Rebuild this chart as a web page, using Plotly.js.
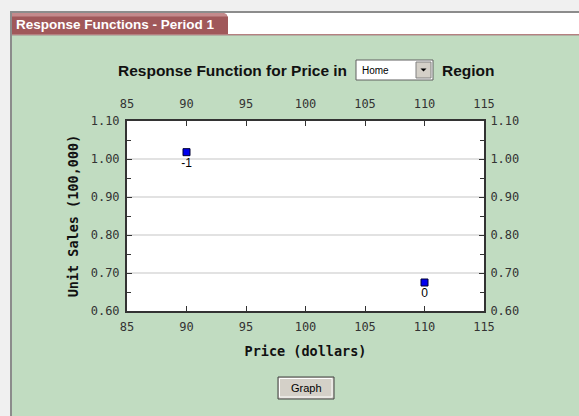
<!DOCTYPE html>
<html>
<head>
<meta charset="utf-8">
<script src="https://cdn.plot.ly/plotly-3.0.1.min.js"></script>
<style>
html,body{margin:0;padding:0;background:#f0f0f0;}
#chart{width:579px;height:416px;}
</style>
</head>
<body>
<div id="chart"></div>
<script>
// ---- data ----
const prices = [90, 110];
const unitSales = [1.018, 0.675];
const pointLabels = ['-1', '0'];
const xTickVals = [85, 90, 95, 100, 105, 110, 115];
const yTickVals = [0.6, 0.7, 0.8, 0.9, 1.0, 1.1];
const tabTitle = 'Response Functions - Period 1';
const chartTitleLeft = 'Response Function for Price in';
const chartTitleRight = 'Region';
const regionChoice = 'Home';
const buttonLabel = 'Graph';
const xTitle = 'Price (dollars)';
const yTitle = 'Unit Sales (100,000)';

// ---- geometry helpers (pixel -> paper) ----
const W = 579, H = 416;
const M = {l: 127, r: 95, t: 121, b: 105};
const PW = W - M.l - M.r, PH = H - M.t - M.b;
const px = p => (p - M.l) / PW;
const py = p => (H - M.b - p) / PH;

function rect(x0, y0, x1, y1, fill, line, lw) {
  return {type: 'rect', xref: 'paper', yref: 'paper', layer: 'below',
    x0: px(x0), x1: px(x1), y0: py(y1), y1: py(y0),
    fillcolor: fill, line: {color: line || fill, width: lw === undefined ? 0 : lw}};
}
function path(pts, fill) {
  let d = pts.map((p, i) => (i ? 'L' : 'M') + px(p[0]) + ',' + py(p[1])).join(' ') + ' Z';
  return {type: 'path', xref: 'paper', yref: 'paper', layer: 'below', path: d,
    fillcolor: fill, line: {width: 0}};
}

const shapes = [
  rect(10, 11, 579, 416, '#8c8c8c'),
  rect(12, 13, 579, 34, '#ffffff'),
  rect(12, 34, 579, 35.5, '#b58080'),
  rect(12, 35.5, 579, 416, '#c1dcc1'),
  // tab
  path([[12,13],[223,13],[226,14],[228,17],[228,34],[12,34]], '#a0585a'),
  path([[12,13],[223,13],[226,14],[227.5,16.5],[12,16.5]], '#c48a8c'),
  // plot area
  {type: 'rect', xref: 'paper', yref: 'paper', layer: 'below', x0: 0, x1: 1, y0: 0, y1: 1,
    fillcolor: '#ffffff', line: {width: 0}},
  // dropdown
  rect(356, 60, 433, 80, '#ffffff', '#606060', 1),
  rect(416, 62, 431, 78, '#d4d0c8', '#808080', 1),
  path([[420.5,68.5],[426.5,68.5],[423.5,71.5]], '#000000'),
  // graph button
  rect(278, 377, 334, 399, '#d4d0c8', '#404040', 1),
  rect(279.5, 378.5, 332, 397, '#d4d0c8', '#ffffff', 1),
];

const monoFont = 'DejaVu Sans Mono, monospace';
const annotations = [
  {text: '<b>' + tabTitle + '</b>', xref: 'paper', yref: 'paper', x: px(14), y: py(24),
    xanchor: 'left', yanchor: 'middle', showarrow: false,
    font: {family: 'Liberation Sans, Arial, sans-serif', size: 13.5, color: '#ffffff'}},
  {text: '<b>' + chartTitleLeft + '</b>', xref: 'paper', yref: 'paper', x: px(349), y: py(70.5),
    xanchor: 'right', yanchor: 'middle', showarrow: false,
    font: {family: 'Liberation Sans, Arial, sans-serif', size: 15.5, color: '#111111'}},
  {text: '<b>' + chartTitleRight + '</b>', xref: 'paper', yref: 'paper', x: px(440), y: py(70.5),
    xanchor: 'left', yanchor: 'middle', showarrow: false,
    font: {family: 'Liberation Sans, Arial, sans-serif', size: 15.5, color: '#111111'}},
  {text: regionChoice, xref: 'paper', yref: 'paper', x: px(360), y: py(70.5),
    xanchor: 'left', yanchor: 'middle', showarrow: false,
    font: {family: 'Liberation Sans, Arial, sans-serif', size: 10, color: '#000000'}},
  {text: buttonLabel, xref: 'paper', yref: 'paper', x: px(306), y: py(388),
    xanchor: 'center', yanchor: 'middle', showarrow: false,
    font: {family: 'Liberation Sans, Arial, sans-serif', size: 11, color: '#000000'}},
];

const traces = [
  {x: prices, y: unitSales, text: pointLabels, type: 'scatter', mode: 'markers+text',
    textposition: 'bottom center', xaxis: 'x', yaxis: 'y',
    marker: {symbol: 'square', size: 7, color: '#0000ee', line: {color: '#000033', width: 1}},
    textfont: {family: 'Liberation Sans, Arial, sans-serif', size: 12, color: '#000000'},
    cliponaxis: false, hoverinfo: 'x+y', showlegend: false},
  {x: prices, y: unitSales, type: 'scatter', mode: 'markers', xaxis: 'x2', yaxis: 'y2',
    marker: {opacity: 0}, hoverinfo: 'skip', showlegend: false},
];

const axisCommon = {
  ticks: 'inside', ticklen: 5, tickwidth: 1.2, tickcolor: '#333333',
  showline: true, linecolor: '#333333', linewidth: 2,
  zeroline: false,
  tickfont: {family: monoFont, size: 12, color: '#333333'},
};

const layout = {
  width: W, height: H,
  margin: M,
  paper_bgcolor: '#f0f0f0',
  plot_bgcolor: 'rgba(0,0,0,0)',
  showlegend: false,
  xaxis: Object.assign({}, axisCommon, {
    range: [85, 115], tickmode: 'array', tickvals: xTickVals, showgrid: false,
    anchor: 'y', side: 'bottom', ticklabelstandoff: 4,
    title: {text: '<b>' + xTitle + '</b>', standoff: 13,
      font: {family: monoFont, size: 13.5, color: '#111111'}},
  }),
  xaxis2: Object.assign({}, axisCommon, {
    range: [85, 115], tickmode: 'array', tickvals: xTickVals, showgrid: false,
    overlaying: 'x', anchor: 'y', side: 'top', ticklabelstandoff: 6,
  }),
  yaxis: Object.assign({}, axisCommon, {
    range: [0.6, 1.1], tickmode: 'array', tickvals: yTickVals, tickformat: '.2f',
    showgrid: true, gridcolor: '#e2e2e2', gridwidth: 1.5,
    minor: {dtick: 0.05, ticks: 'inside', ticklen: 4, tickcolor: '#333333', showgrid: false},
    anchor: 'x', side: 'left', ticklabelstandoff: 3,
    title: {text: '<b>' + yTitle + '</b>', standoff: 9,
      font: {family: monoFont, size: 13.5, color: '#111111'}},
  }),
  yaxis2: Object.assign({}, axisCommon, {
    range: [0.6, 1.1], tickmode: 'array', tickvals: yTickVals, tickformat: '.2f',
    showgrid: false, ticklabelstandoff: 2,
    minor: {dtick: 0.05, ticks: 'inside', ticklen: 4, tickcolor: '#333333', showgrid: false},
    overlaying: 'y', anchor: 'x', side: 'right',
  }),
  shapes: shapes,
  annotations: annotations,
};

Plotly.newPlot('chart', traces, layout, {displayModeBar: false, responsive: false});
</script>
</body>
</html>
